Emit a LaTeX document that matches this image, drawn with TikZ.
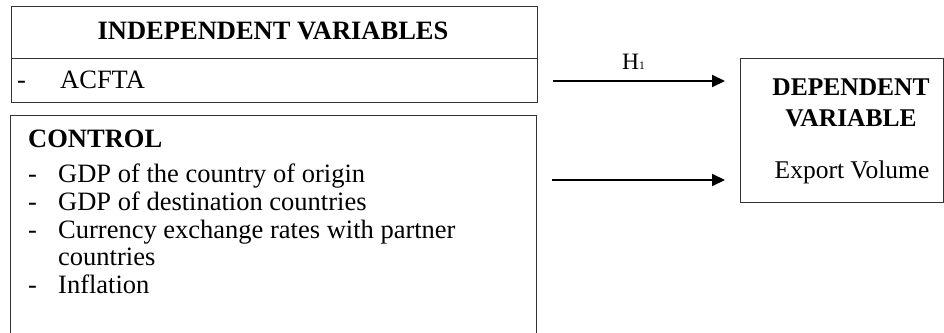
\documentclass[tikz,border=0pt]{standalone}
\usepackage{fontspec}
\setmainfont{Liberation Serif}
\usetikzlibrary{arrows.meta}
\begin{document}
\begin{tikzpicture}[x=1pt,y=-1pt,
  box/.style={draw=black!80, line width=1pt, inner sep=0pt},
  txt/.style={anchor=base west, inner sep=0pt, font=\fontsize{26.5}{30}\selectfont},
  ctr/.style={anchor=base, inner sep=0pt, font=\fontsize{26.5}{30}\selectfont},
  dtxt/.style={anchor=base, inner sep=0pt, font=\fontsize{25.5}{30}\selectfont},
  arr/.style={line width=2pt, -{Triangle[length=13pt,width=12pt]}, shorten <=15pt, shorten >=15pt}
]
\useasboundingbox[fill=white] (0,0) rectangle (944,332);
% boxes
\node[box, anchor=north west, minimum width=526pt, minimum height=96pt] (indep) at (11,6) {};
\draw[draw=black!80, line width=1pt] (indep.west |- 0,58) -- (indep.east |- 0,58);
\node[box, anchor=north west, minimum width=526pt, minimum height=230pt] (control) at (10,115) {};
\node[box, anchor=north west, minimum width=203pt, minimum height=144pt] (dep) at (740,58) {};
% independent texts
\node[ctr] (ttl) at (273,39) {\textbf{INDEPENDENT VARIABLES}};
\node[txt] (da) at (17,88) {-};
\node[txt] (acfta) at (60,88) {ACFTA};
% control texts
\node[txt] (ctl) at (28,147) {\textbf{CONTROL}};
\node[txt] (d1) at (28,182) {-};
\node[txt] (c1) at (58,182) {GDP of the country of origin};
\node[txt] (d2) at (28,210) {-};
\node[txt] (c2) at (58,210) {GDP of destination countries};
\node[txt] (d3) at (28,238) {-};
\node[txt] (c3) at (58,238) {Currency exchange rates with partner};
\node[txt] (c3b) at (58,265) {countries};
\node[txt] (d4) at (28,293) {-};
\node[txt] (c4) at (58,293) {Inflation};
% dependent texts
\node[dtxt] (dv1) at (851,95) {\textbf{DEPENDENT}};
\node[dtxt] (dv2) at (851,126) {\textbf{VARIABLE}};
\node[dtxt] (dv3) at (852,178) {Export Volume};
% arrows
\coordinate (r1) at (0,81);
\coordinate (r2) at (0,180);
\draw[arr] (indep.east |- r1) -- (dep.west |- r1);
\draw[arr] (control.east |- r2) -- (dep.west |- r2);
\node[anchor=base west, inner sep=0pt, font=\fontsize{23.5}{26}\selectfont] (h1) at (622,69) {H{\fontsize{11.5}{13}\selectfont 1}};
\end{tikzpicture}
\end{document}
